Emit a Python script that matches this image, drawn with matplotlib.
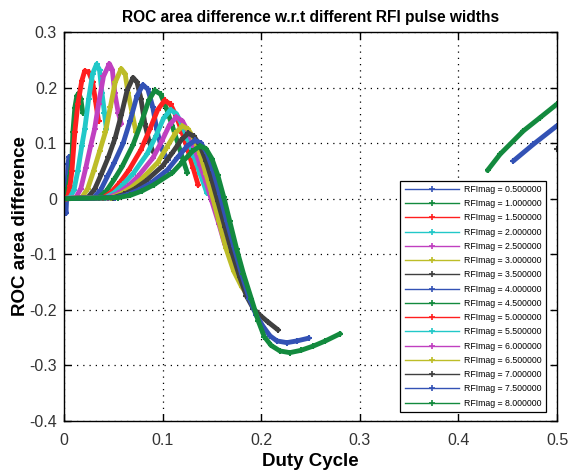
import numpy as np
import matplotlib
matplotlib.use("Agg")
import matplotlib.pyplot as plt
from matplotlib.lines import Line2D

plt.rcParams['font.family'] = ['Liberation Sans', 'DejaVu Sans']

rfimag = [0.5, 1.0, 1.5, 2.0, 2.5, 3.0, 3.5, 4.0, 4.5, 5.0, 5.5, 6.0, 6.5, 7.0, 7.5, 8.0]
labels = ["RFImag = %.6f" % r for r in rfimag]

# duty-cycle / ROC-area-difference points
x05 = [0, 0.001, 0.002, 0.003, 0.004, 0.005]
y05 = [0, -0.012, -0.026, 0.015, 0.062, 0.075]

x10 = [0, 0.002, 0.004, 0.006, 0.008, 0.009, 0.011, 0.013, 0.015, 0.017, 0.019]
y10 = [0, 0.004, 0.02, 0.04, 0.068, 0.12, 0.164, 0.185, 0.19, 0.18, 0.155]

x15 = [0, 0.002, 0.004, 0.006, 0.008, 0.011, 0.014, 0.018, 0.021, 0.025, 0.029, 0.032, 0.035]
y15 = [0, 0, 0.005, 0.022, 0.05, 0.12, 0.17, 0.212, 0.23, 0.228, 0.21, 0.175, 0.14]

x20 = [0, 0.006, 0.010, 0.014, 0.018, 0.021, 0.025, 0.029, 0.033, 0.036, 0.0385, 0.041, 0.043]
y20 = [0, 0.002, 0.015, 0.05, 0.095, 0.125, 0.18, 0.225, 0.242, 0.232, 0.19, 0.155, 0.125]

x25 = [0, 0.012, 0.017, 0.022, 0.027, 0.031, 0.035, 0.04, 0.046, 0.049, 0.0515, 0.055, 0.058]
y25 = [0, 0.002, 0.018, 0.055, 0.095, 0.125, 0.17, 0.22, 0.243, 0.232, 0.19, 0.155, 0.135]

x30 = [0, 0.018, 0.024, 0.030, 0.036, 0.042, 0.047, 0.052, 0.058, 0.062, 0.065, 0.069, 0.073]
y30 = [0, 0.002, 0.018, 0.05, 0.085, 0.12, 0.165, 0.21, 0.234, 0.225, 0.19, 0.155, 0.12]

x35 = [0, 0.024, 0.031, 0.038, 0.045, 0.052, 0.058, 0.064, 0.07, 0.074, 0.078, 0.082, 0.086, 0.09]
y35 = [0, 0.002, 0.017, 0.045, 0.075, 0.11, 0.15, 0.195, 0.218, 0.21, 0.18, 0.135, 0.105, 0.085]

x40 = [0, 0.03, 0.037, 0.044, 0.051, 0.06, 0.067, 0.074, 0.08, 0.085, 0.09, 0.094, 0.099, 0.105]
y40 = [0, 0.002, 0.015, 0.04, 0.065, 0.1, 0.14, 0.185, 0.205, 0.197, 0.165, 0.125, 0.09, 0.07]

x45 = [0, 0.035, 0.043, 0.051, 0.059, 0.07, 0.078, 0.086, 0.092, 0.098, 0.104, 0.11, 0.116, 0.121, 0.125]
y45 = [0, 0.002, 0.014, 0.035, 0.058, 0.097, 0.135, 0.177, 0.195, 0.188, 0.162, 0.13, 0.097, 0.068, 0.047]

x50 = [0, 0.04, 0.048, 0.057, 0.066, 0.078, 0.087, 0.095, 0.102, 0.108, 0.114, 0.12, 0.126, 0.131, 0.136]
y50 = [0, 0.002, 0.012, 0.03, 0.052, 0.088, 0.125, 0.16, 0.177, 0.17, 0.148, 0.118, 0.085, 0.055, 0.025]

x55 = [0, 0.042, 0.051, 0.06, 0.07, 0.084, 0.093, 0.101, 0.108, 0.114, 0.12, 0.126, 0.132, 0.138, 0.145]
y55 = [0, 0.002, 0.011, 0.026, 0.045, 0.08, 0.112, 0.145, 0.16, 0.153, 0.132, 0.105, 0.075, 0.045, 0.01]

x60 = [0, 0.045, 0.055, 0.065, 0.075, 0.09, 0.099, 0.107, 0.114, 0.12, 0.126, 0.132, 0.138, 0.144,
       0.15, 0.157, 0.163]
y60 = [0, 0.002, 0.01, 0.023, 0.04, 0.073, 0.103, 0.133, 0.147, 0.14, 0.12, 0.093, 0.06, 0.03,
       -0.005, -0.045, -0.082]

x65 = [0, 0.048, 0.058, 0.068, 0.079, 0.095, 0.104, 0.113, 0.12, 0.126, 0.132, 0.138, 0.144, 0.15,
       0.157, 0.164, 0.172, 0.18, 0.189]
y65 = [0, 0.002, 0.009, 0.02, 0.036, 0.065, 0.092, 0.118, 0.131, 0.125, 0.107, 0.08, 0.045, 0.008,
       -0.04, -0.088, -0.13, -0.158, -0.18]

x70 = [0, 0.05, 0.061, 0.072, 0.083, 0.1, 0.11, 0.119, 0.126, 0.132, 0.138, 0.144, 0.15, 0.156,
       0.163, 0.17, 0.178, 0.185, 0.192, 0.199, 0.207, 0.217, np.nan, 0.4995]
y70 = [0, 0.002, 0.008, 0.018, 0.032, 0.059, 0.083, 0.106, 0.118, 0.112, 0.095, 0.068, 0.033, -0.005,
       -0.05, -0.095, -0.14, -0.175, -0.198, -0.21, -0.222, -0.236, np.nan, 0.089]

x75 = [0, 0.052, 0.064, 0.076, 0.088, 0.105, 0.115, 0.125, 0.133, 0.139, 0.145, 0.151, 0.158, 0.165,
       0.172, 0.18, 0.188, 0.195, 0.202, 0.209, 0.216, 0.226, 0.236, 0.248, np.nan,
       0.4557, 0.476, 0.4997]
y75 = [0, 0.002, 0.007, 0.016, 0.028, 0.052, 0.074, 0.095, 0.105, 0.1, 0.082, 0.052, 0.008, -0.04,
       -0.085, -0.135, -0.18, -0.21, -0.23, -0.247, -0.256, -0.259, -0.256, -0.251, np.nan,
       0.068, 0.098, 0.131]

x80 = [0, 0.055, 0.067, 0.079, 0.091, 0.11, 0.12, 0.13, 0.138, 0.144, 0.15, 0.156, 0.162, 0.168,
       0.175, 0.182, 0.19, 0.197, 0.203, 0.21, 0.219, 0.229, 0.24, 0.253, 0.265, 0.28, np.nan,
       0.4295, 0.4422, 0.4658, 0.4828, 0.4997]
y80 = [0, 0.002, 0.006, 0.014, 0.025, 0.047, 0.066, 0.085, 0.095, 0.09, 0.072, 0.042, 0.003, -0.04,
       -0.09, -0.135, -0.18, -0.22, -0.248, -0.264, -0.274, -0.277, -0.273, -0.265, -0.256, -0.243, np.nan,
       0.051, 0.08, 0.122, 0.146, 0.17]

xs = [x05, x10, x15, x20, x25, x30, x35, x40, x45, x50, x55, x60, x65, x70, x75, x80]
ys = [y05, y10, y15, y20, y25, y30, y35, y40, y45, y50, y55, y60, y65, y70, y75, y80]

palette = ['#3352b5', '#138a3e', '#ff1f1f', '#22c8c8', '#c040c0', '#bdbd28', '#404040']
colors = [palette[i % 7] for i in range(16)]

fig = plt.figure(figsize=(5.68, 4.71), dpi=100)
ax = fig.add_axes([0.1127, 0.1062, 0.868, 0.8258])

for x, y, c in zip(xs, ys, colors):
    ax.plot(x, y, '-', color=c, lw=3.5, marker='+', ms=5, mew=1.5,
            solid_capstyle='round', solid_joinstyle='round')

ax.set_xlim(0, 0.5)
ax.set_ylim(-0.4, 0.3)
ax.set_xticks([0, 0.1, 0.2, 0.3, 0.4, 0.5])
ax.set_xticklabels(['0', '0.1', '0.2', '0.3', '0.4', '0.5'])
ax.set_yticks([-0.4, -0.3, -0.2, -0.1, 0, 0.1, 0.2, 0.3])
ax.set_yticklabels(['-0.4', '-0.3', '-0.2', '-0.1', '0', '0.1', '0.2', '0.3'])
ax.grid(True, linestyle=(0, (1, 4)), color='black', lw=0.9)
ax.tick_params(direction='in', top=True, right=True, length=5, width=1,
               labelsize=11.5, labelcolor='#333333')
ax.tick_params(axis='x', pad=9)
ax.tick_params(axis='y', pad=5)
for s in ax.spines.values():
    s.set_linewidth(1.0)
    s.set_color('black')

ax.set_title('ROC area difference w.r.t different RFI pulse widths',
             fontsize=11.2, fontweight='bold', pad=7)
ax.set_xlabel('Duty Cycle', fontsize=13.5, fontweight='bold', labelpad=3)
ax.set_ylabel('ROC area difference', fontsize=13.5, fontweight='bold', labelpad=0)

handles = [Line2D([0], [0], color=c, lw=1, marker='+', ms=4, mew=1.2) for c in colors]
leg = ax.legend(handles, labels, loc='lower right', bbox_to_anchor=(0.978, 0.023),
                borderaxespad=0, fontsize=6.3, labelspacing=0.6, handlelength=6.2,
                handletextpad=0.6, fancybox=False, framealpha=1, edgecolor='black',
                borderpad=0.5, numpoints=1)
leg.get_frame().set_linewidth(0.9)

fig.savefig('out.png', dpi=100)
